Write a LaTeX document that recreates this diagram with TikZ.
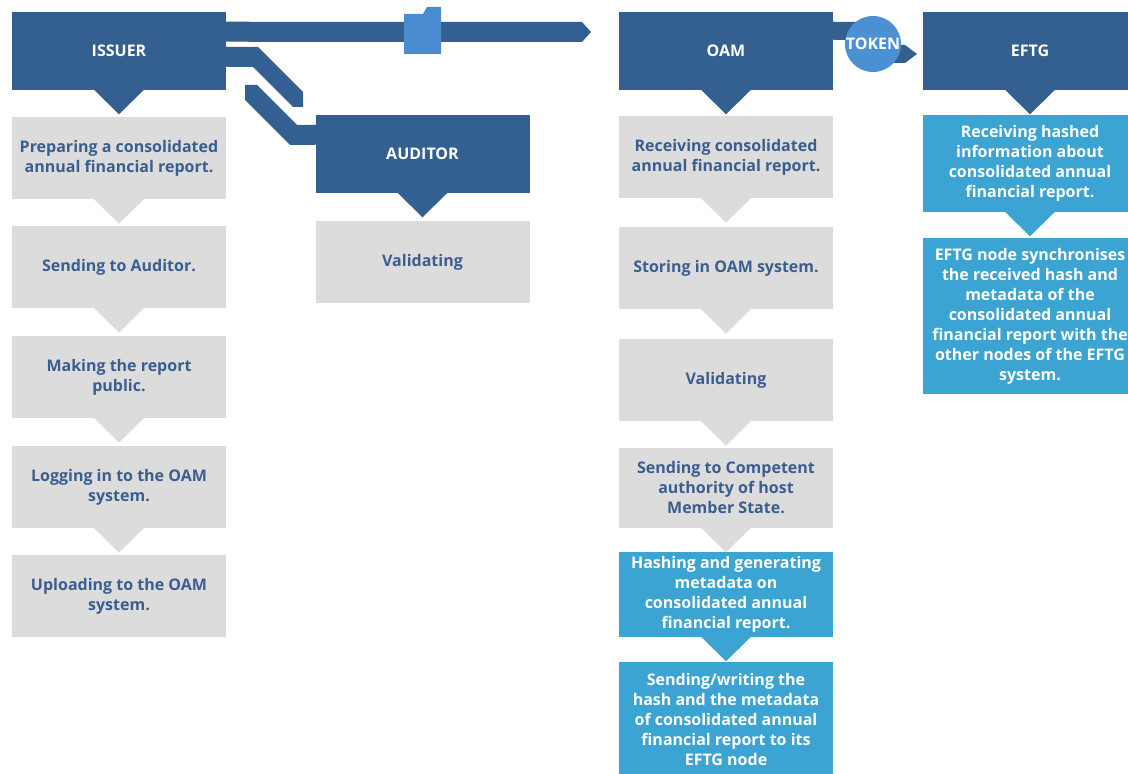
\documentclass[tikz,border=0pt]{standalone}
\usepackage{fontspec}
\setmainfont{Open Sans}
\usetikzlibrary{calc}

\definecolor{navy}{HTML}{335F91}
\definecolor{boxgrey}{HTML}{DCDCDC}
\definecolor{txtblue}{HTML}{3A5E90}
\definecolor{skyblue}{HTML}{3BA4D3}
\definecolor{tokenblue}{HTML}{4A90D2}
\definecolor{docblue}{HTML}{4A8CD0}

\begin{document}
\begin{tikzpicture}[
  x=0.75pt,y=-0.75pt,
  head/.style={rectangle,fill=navy,text=white,inner sep=0pt,
               minimum width=160.5pt,minimum height=58.5pt,
               font=\bfseries\fontsize{12}{15}\selectfont},
  greybox/.style={rectangle,fill=boxgrey,text=txtblue,inner sep=0pt,
                  minimum width=160.5pt,minimum height=62pt,align=center,
                  font=\bfseries\fontsize{12}{15}\selectfont},
  bluebox/.style={greybox,fill=skyblue,text=white},
  band/.style={fill=navy},
  token/.style={circle,fill=tokenblue,inner sep=0pt,minimum size=42pt}
]
  \clip (0,0) rectangle (1128,774);

  % issuer column
  \node[head] (issuer) at (119,51) {ISSUER};
  \node[greybox] (prep)   at (119,158) {Preparing a consolidated\\annual financial report.};
  \node[greybox] (send)   at (119,267) {Sending to Auditor.};
  \node[greybox] (public) at (119,377) {Making the report\\public.};
  \node[greybox] (login)  at (119,487) {Logging in to the OAM\\system.};
  \node[greybox] (upload) at (119,596) {Uploading to the OAM\\system.};

  % auditor column
  \node[head] (auditor) at (422.5,154) {AUDITOR};
  \node[greybox] (valid) at (422.5,262) {Validating};

  % oam column
  \node[head] (oam) at (726,51) {OAM};
  \node[greybox] (receive) at (726,157) {Receiving consolidated\\annual financial report.};
  \node[greybox] (store)   at (726,268) {Storing in OAM system.};
  \node[greybox] (check)   at (726,380) {Validating};
  \node[greybox,minimum height=60pt] (forward) at (726,488)
    {Sending to Competent\\authority of host\\Member State.};
  \node[bluebox,minimum height=63.75pt] (hash) at (726,594.5)
    {Hashing and generating\\metadata on\\consolidated annual\\financial report.};
  \node[bluebox,minimum height=85.5pt] (write) at (726,719)
    {Sending/writing the\\hash and the metadata\\of consolidated annual\\financial report to its\\EFTG node};

  % eftg column
  \node[head] (eftg) at (1030,51) {EFTG};
  \node[bluebox,minimum height=72.75pt] (hashed) at (1030,163.5)
    {Receiving hashed\\information about\\consolidated annual\\financial report.};
  \node[bluebox,minimum height=117pt] (sync) at (1030,316)
    {EFTG node synchronises\\the received hash and\\metadata of the\\consolidated annual\\financial report with the\\other nodes of the EFTG\\system.};

  % pointers under the boxes
  \foreach \n/\c in {issuer/navy,prep/boxgrey,send/boxgrey,public/boxgrey,
                     login/boxgrey,auditor/navy,oam/navy,receive/boxgrey,
                     store/boxgrey,check/boxgrey,forward/boxgrey,hash/skyblue,
                     eftg/navy,hashed/skyblue}
    \fill[\c] ($(\n.south)+(-25,-0.5)$) -- ($(\n.south)+(0,24)$)
              -- ($(\n.south)+(25,-0.5)$) -- cycle;

  % issuer to oam
  \fill[band] ($(issuer.north east)+(-1,10)$) -- (582,22) -- (591,32)
              -- (582,42) -- ($(issuer.north east)+(-1,30)$) -- cycle;
  \fill[docblue] (404,14) -- (423,14) -- (427,7) -- (441,7)
                 -- (441,54) -- (404,54) -- cycle;

  % issuer to auditor
  \fill[band] ($(issuer.north east)+(-1,35)$) -- (258,47) -- (303,92)
              -- (303,107) -- (293,107) -- (253,67)
              -- ($(issuer.north east)+(-1,55)$) -- cycle;
  \fill[band] (245,85) -- (257,85) -- (297,125)
              -- ($(auditor.north west)+(1,10)$) -- ($(auditor.north west)+(1,30)$)
              -- (290,145) -- (245,100) -- cycle;

  % oam to eftg
  \fill[band] ($(oam.north east)+(-1,10)$) -- (862,22) -- (862,40)
              -- ($(oam.north east)+(-1,28)$) -- cycle;
  \fill[band] (890,45) -- (905,45) -- (917,54) -- (905,63) -- (890,63) -- cycle;
  \node[token,label={[text=white,font=\bfseries\fontsize{12}{14}\selectfont]center:TOKEN}]
    (tok) at (873,44) {};
\end{tikzpicture}
\end{document}
